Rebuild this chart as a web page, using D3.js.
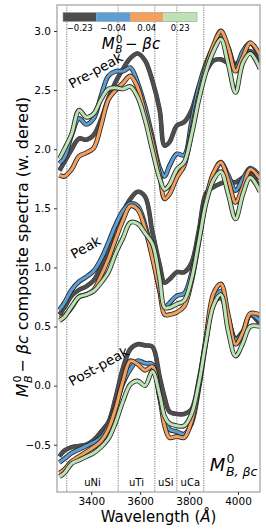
<!DOCTYPE html>
<html>
<head>
<meta charset="utf-8">
<script src="https://cdn.jsdelivr.net/npm/d3@7"></script>
<style>
  html, body { margin: 0; padding: 0; background: #fff; }
  svg { display: block; font-family: "DejaVu Sans", sans-serif; }
</style>
</head>
<body>
<svg id="chart" width="266" height="532"></svg>
<script>
// --- data ---
var wavelengths = [3270, 3290, 3320, 3350, 3380, 3410, 3440, 3470, 3500, 3530, 3560, 3590, 3620, 3650,
                   3680, 3700, 3720, 3750, 3780, 3810, 3840, 3870, 3900, 3930, 3960, 3990, 4020, 4050, 4090];

var colorValues = ["-0.23", "-0.04", "0.04", "0.23"];
var colors = ["#4d4d4d", "#5b9fd6", "#f7a05c", "#bce3b4"];

// Pre-peak
var preGray   = [1.82, 1.89, 2.00, 2.09, 2.08, 2.12, 2.25, 2.43, 2.57, 2.68, 2.77, 2.81, 2.75, 2.58, 2.33, 2.03, 2.06, 2.20, 2.23, 2.33, 2.53, 2.66, 2.75, 2.76, 2.73, 2.72, 2.78, 2.83, 2.72];
var preBlue   = [1.88, 1.93, 2.12, 2.26, 2.21, 2.26, 2.45, 2.62, 2.66, 2.66, 2.69, 2.56, 2.36, 2.10, 1.84, 1.77, 1.86, 1.96, 1.95, 2.23, 2.53, 2.73, 2.87, 2.97, 2.86, 2.69, 2.83, 2.90, 2.78];
var preOrange = [1.78, 1.77, 1.83, 1.94, 1.97, 2.01, 2.20, 2.42, 2.50, 2.56, 2.62, 2.52, 2.30, 2.06, 1.78, 1.58, 1.62, 1.76, 1.86, 2.15, 2.45, 2.70, 2.88, 3.00, 2.86, 2.66, 2.78, 2.90, 2.80];
var preGreen  = [1.92, 2.00, 2.13, 2.33, 2.27, 2.30, 2.42, 2.51, 2.52, 2.51, 2.53, 2.44, 2.25, 1.99, 1.75, 1.66, 1.70, 1.83, 1.89, 2.12, 2.42, 2.66, 2.83, 2.93, 2.72, 2.48, 2.73, 2.81, 2.68];

// Peak
var peakGray   = [0.60, 0.66, 0.76, 0.81, 0.84, 0.89, 1.01, 1.16, 1.35, 1.47, 1.58, 1.64, 1.60, 1.30, 1.02, 0.87, 0.90, 0.96, 0.96, 1.04, 1.31, 1.63, 1.68, 1.71, 1.73, 1.72, 1.76, 1.79, 1.66];
var peakBlue   = [0.64, 0.70, 0.81, 0.88, 0.92, 0.97, 1.07, 1.21, 1.36, 1.48, 1.54, 1.52, 1.36, 1.11, 0.80, 0.66, 0.70, 0.76, 0.78, 0.95, 1.25, 1.58, 1.78, 1.88, 1.78, 1.65, 1.75, 1.84, 1.77];
var peakOrange = [0.57, 0.59, 0.66, 0.75, 0.77, 0.81, 0.93, 1.07, 1.24, 1.40, 1.52, 1.49, 1.33, 1.08, 0.80, 0.60, 0.60, 0.62, 0.67, 0.88, 1.22, 1.58, 1.80, 1.89, 1.74, 1.55, 1.68, 1.83, 1.75];
var peakGreen  = [0.55, 0.58, 0.67, 0.75, 0.77, 0.80, 0.87, 0.96, 1.12, 1.25, 1.38, 1.37, 1.29, 1.20, 0.90, 0.66, 0.66, 0.69, 0.72, 0.90, 1.22, 1.55, 1.74, 1.81, 1.62, 1.41, 1.62, 1.76, 1.64];

// Post-peak
var postGray   = [-0.60, -0.55, -0.52, -0.51, -0.50, -0.46, -0.39, -0.31, -0.10, 0.15, 0.31, 0.35, 0.34, 0.33, 0.07, -0.10, -0.22, -0.24, -0.24, -0.20, 0.05, 0.40, 0.70, 0.74, 0.56, 0.40, 0.46, 0.60, 0.52];
var postBlue   = [-0.65, -0.62, -0.57, -0.54, -0.51, -0.48, -0.44, -0.34, -0.17, 0.02, 0.14, 0.21, 0.19, 0.18, -0.10, -0.28, -0.37, -0.39, -0.41, -0.32, -0.02, 0.38, 0.72, 0.80, 0.58, 0.39, 0.45, 0.60, 0.55];
var postOrange = [-0.74, -0.71, -0.64, -0.60, -0.56, -0.52, -0.47, -0.37, -0.19, 0.04, 0.21, 0.18, 0.13, 0.16, -0.10, -0.34, -0.44, -0.43, -0.44, -0.30, 0.00, 0.42, 0.78, 0.86, 0.60, 0.35, 0.45, 0.61, 0.60];
var postGreen  = [-0.77, -0.74, -0.66, -0.63, -0.60, -0.57, -0.52, -0.45, -0.31, -0.13, 0.01, 0.04, 0.00, 0.12, -0.08, -0.26, -0.32, -0.34, -0.34, -0.24, 0.02, 0.38, 0.68, 0.77, 0.46, 0.25, 0.36, 0.50, 0.50];

var groups = [
  { name: "Pre-peak",  series: [preGray, preBlue, preOrange, preGreen],     labelAt: [96, 71] },
  { name: "Peak",      series: [peakGray, peakBlue, peakOrange, peakGreen], labelAt: [86, 248] },
  { name: "Post-peak", series: [postGray, postBlue, postOrange, postGreen], labelAt: [99, 367] }
];

var regionEdges = [3300, 3510, 3660, 3750, 3860];
var regionNames = ["uNi", "uTi", "uSi", "uCa"];
var xTicks = [3400, 3600, 3800, 4000];
var yTicks = [-0.5, 0.0, 0.5, 1.0, 1.5, 2.0, 2.5, 3.0];

// --- layout ---
var svg = d3.select("#chart");
var pLeft = 57, pRight = 260, pTop = 5, pBottom = 492;

var x = d3.scaleLinear().domain([3260, 4090]).range([pLeft, pRight]);
var y = d3.scaleLinear().domain([-0.9, 3.22]).range([pBottom, pTop]);

// region separators
regionEdges.forEach(function(w) {
  svg.append("line")
    .attr("x1", x(w)).attr("x2", x(w))
    .attr("y1", pTop).attr("y2", pBottom)
    .attr("stroke", "#777").attr("stroke-width", 1)
    .attr("stroke-dasharray", "1.2,1.2");
});

// region names
regionNames.forEach(function(n, i) {
  svg.append("text")
    .attr("x", x((regionEdges[i] + regionEdges[i + 1]) / 2))
    .attr("y", 486)
    .attr("text-anchor", "middle")
    .attr("font-size", 10)
    .text(n);
});

// curves
var line = d3.line()
  .x(function(d, i) { return x(wavelengths[i]); })
  .y(function(d) { return y(d); })
  .curve(d3.curveCatmullRom.alpha(0.5));

svg.append("clipPath").attr("id", "plotclip")
  .append("rect").attr("x", pLeft).attr("y", pTop)
  .attr("width", pRight - pLeft).attr("height", pBottom - pTop);

var plot = svg.append("g").attr("clip-path", "url(#plotclip)");

groups.forEach(function(g) {
  g.series.forEach(function(vals, k) {
    plot.append("path")
      .attr("d", line(vals))
      .attr("fill", "none")
      .attr("stroke", k === 0 ? "#3a3a3a" : "#2b2b2b")
      .attr("stroke-width", k === 0 ? 4.6 : 4.8)
      .attr("stroke-linejoin", "round");
    plot.append("path")
      .attr("d", line(vals))
      .attr("fill", "none")
      .attr("stroke", colors[k])
      .attr("stroke-width", k === 0 ? 3.8 : 3.0)
      .attr("stroke-linejoin", "round");
  });
});

// group labels
groups.forEach(function(g) {
  svg.append("text")
    .attr("transform", "translate(" + g.labelAt[0] + "," + g.labelAt[1] + ") rotate(-29)")
    .attr("text-anchor", "middle")
    .attr("dominant-baseline", "middle")
    .attr("font-size", 13.5)
    .text(g.name);
});

// frame
svg.append("rect")
  .attr("x", pLeft).attr("y", pTop)
  .attr("width", pRight - pLeft).attr("height", pBottom - pTop)
  .attr("fill", "none").attr("stroke", "#b3b3b3").attr("stroke-width", 1.5);

// axes
var xAxis = svg.append("g").attr("transform", "translate(0," + pBottom + ")")
  .call(d3.axisBottom(x).tickValues(xTicks).tickSize(3).tickFormat(d3.format("d")));
var yAxis = svg.append("g").attr("transform", "translate(" + pLeft + ",0)")
  .call(d3.axisLeft(y).tickValues(yTicks).tickSize(3).tickFormat(function(d) {
    return d3.format(".1f")(d).replace("-", "\u2212");
  }));
[xAxis, yAxis].forEach(function(a) {
  a.select(".domain").remove();
  a.selectAll(".tick line").attr("stroke", "#333");
  a.selectAll(".tick text").attr("font-size", 10.5).attr("fill", "#000")
    .attr("font-family", "DejaVu Sans, sans-serif");
});

// math label helper: italic M with sup "0" and sub, then optional italic tail and plain rest
function mathLabel(parent, size, sub, tail, rest) {
  var g = parent.append("g");
  var m = g.append("text").attr("font-size", size).attr("font-style", "italic").text("M");
  var wm = m.node().getComputedTextLength();
  var sup = g.append("text").attr("x", wm + 1).attr("y", -size * 0.42)
    .attr("font-size", size * 0.7).text("0");
  var sb = g.append("text").attr("x", wm + 0.5).attr("y", size * 0.25)
    .attr("font-size", size * 0.7).attr("font-style", "italic").text(sub);
  var w = wm + Math.max(sup.node().getComputedTextLength(), sb.node().getComputedTextLength()) + 1;
  if (tail) {
    var t = g.append("text").attr("x", w + 2).attr("font-size", size);
    t.append("tspan").text("\u2212 ");
    t.append("tspan").attr("font-style", "italic").text(tail);
    if (rest) t.append("tspan").text(rest);
    w += 2 + t.node().getComputedTextLength();
  }
  return { g: g, width: w };
}

// colorbar
var cbX = d3.scaleBand().domain(colorValues).range([63, 197]);
svg.selectAll("rect.cb").data(colorValues).enter().append("rect")
  .attr("class", "cb")
  .attr("x", function(d) { return cbX(d); })
  .attr("y", 12.5).attr("width", cbX.bandwidth()).attr("height", 9)
  .attr("fill", function(d, i) { return colors[i]; });
svg.append("rect").attr("x", 63).attr("y", 12.5).attr("width", 134).attr("height", 9)
  .attr("fill", "none").attr("stroke", "#999").attr("stroke-width", 0.6);
svg.selectAll("text.cbl").data(colorValues).enter().append("text")
  .attr("class", "cbl")
  .attr("x", function(d) { return cbX(d) + cbX.bandwidth() / 2; })
  .attr("y", 31).attr("text-anchor", "middle").attr("font-size", 8.5)
  .text(function(d) { return d.replace("-", "\u2212"); });

var cbTitle = mathLabel(svg, 15, "B", "\u03b2c", null);
cbTitle.g.attr("transform", "translate(" + (131 - cbTitle.width / 2) + ",49)");

// bottom-right label
var brLabel = mathLabel(svg, 18, "B, \u03b2c", null, null);
brLabel.g.attr("transform", "translate(" + (258 - brLabel.width) + ",471)");

// x label
var xl = svg.append("text").attr("x", (pLeft + pRight) / 2).attr("y", 522)
  .attr("text-anchor", "middle").attr("font-size", 15);
xl.append("tspan").text("Wavelength (");
xl.append("tspan").attr("font-style", "italic").text("\u00c5");
xl.append("tspan").text(")");

// y label (rotated)
var ylG = svg.append("g").attr("transform", "translate(28,247) rotate(-90)");
var yl = mathLabel(ylG, 16, "B", "\u03b2c", " composite spectra (w. dered)");
yl.g.attr("transform", "translate(" + (-yl.width / 2) + ",0)");
</script>
</body>
</html>
